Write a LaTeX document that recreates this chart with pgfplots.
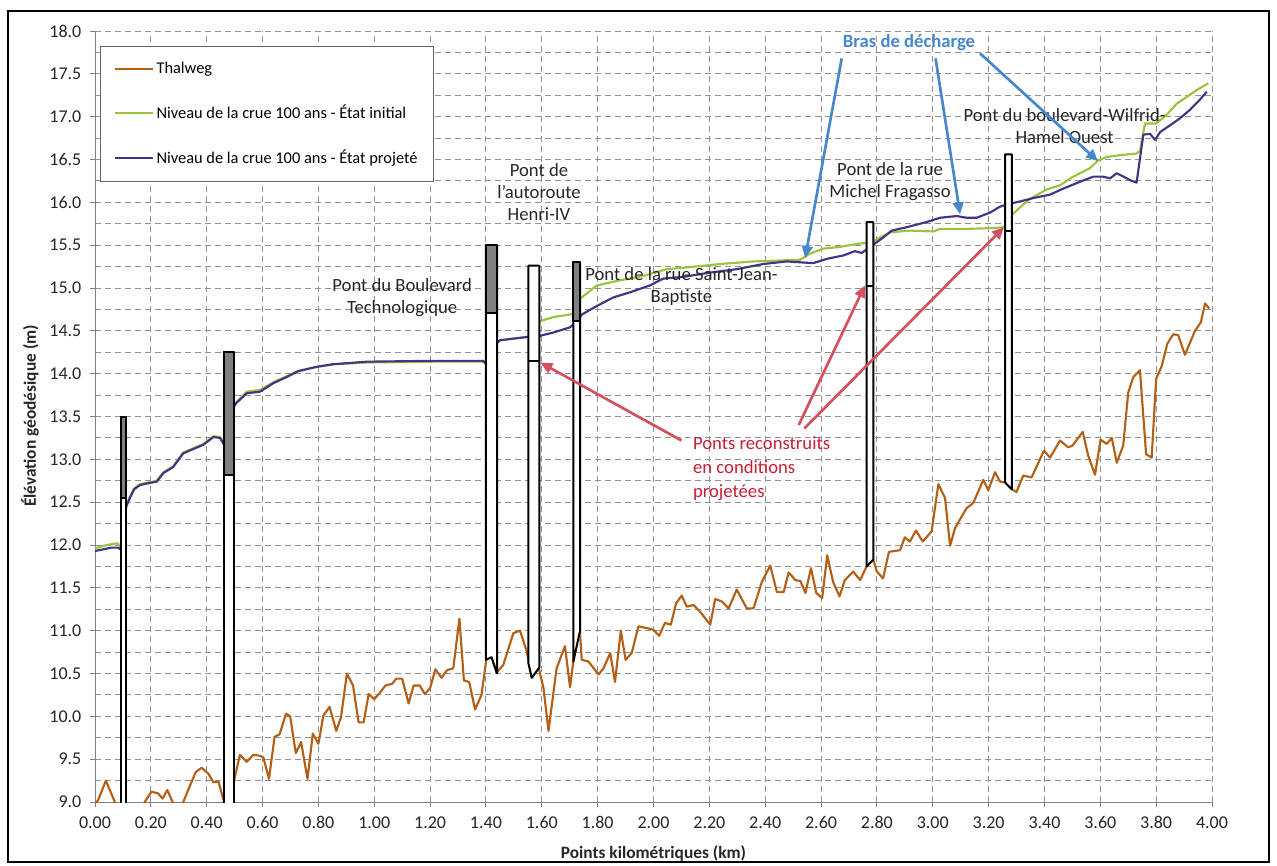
\documentclass[border=0pt]{standalone}
\usepackage{fontspec}
\setmainfont{Carlito}
\usepackage{pgfplots}
\pgfplotsset{compat=1.18}
\usetikzlibrary{arrows.meta}
\definecolor{thal}{RGB}{180,95,22}
\definecolor{ini}{RGB}{155,195,60}
\definecolor{proj}{RGB}{64,52,132}
\definecolor{gridc}{RGB}{145,145,145}
\definecolor{arrred}{RGB}{212,80,92}
\definecolor{txtred}{RGB}{200,30,50}
\definecolor{arrblue}{RGB}{70,135,205}
\definecolor{deck}{RGB}{128,128,128}
\begin{document}
\begin{tikzpicture}
\begin{scope}[x=0.75pt,y=-0.75pt]
\path[use as bounding box] (0,0) rectangle (1277,865);
\end{scope}
\begin{axis}[
  at={(71.25pt,-601.5pt)}, anchor=south west,
  scale only axis, width=837.75pt, height=578.25pt,
  xmin=0, xmax=4, ymin=9, ymax=18,
  xtick distance=0.2, ytick distance=0.5, minor y tick num=1,
  grid=both,
  major grid style={gridc, line width=0.75pt, dash pattern=on 4.5pt off 3pt},
  minor grid style={gridc, line width=0.75pt, dash pattern=on 4.5pt off 3pt},
  axis x line*=bottom, axis y line*=left,
  axis line style={black!50, line width=0.75pt, -},
  tick align=outside, major tick length=3.75pt, minor tick length=0pt,
  tick style={black!50, line width=0.75pt},
  /pgf/number format/assume math mode=true,
  tick label style={font=\fontsize{13.5}{15}\selectfont, text=black!85},
  x tick label style={yshift=-3.5pt,/pgf/number format/fixed,/pgf/number format/fixed zerofill,/pgf/number format/precision=2},
  y tick label style={xshift=-3pt,/pgf/number format/fixed,/pgf/number format/fixed zerofill,/pgf/number format/precision=1},
  clip mode=individual,
  legend style={at={(0.0045,0.9805)}, anchor=north west, draw=black!60, line width=0.75pt, fill=white,
    font=\fontsize{12.3}{14}\selectfont, inner xsep=10pt, inner ysep=10pt, row sep=18pt, cells={anchor=west}},
  legend image code/.code={\draw[#1,line width=1.5pt] (0pt,0pt) -- (28.5pt,0pt);},
  every axis plot/.append style={line join=round, mark=none},
]
% Thalweg
\addplot[thal, line width=1.6pt] coordinates {
(0.000,8.98)(0.011,9.02)(0.039,9.25)(0.071,9.0)(0.09,8.7)(0.13,8.6)(0.165,8.85)(0.178,9.0)
(0.202,9.12)(0.226,9.10)(0.242,9.04)(0.259,9.14)(0.278,9.0)(0.295,8.85)(0.316,9.0)(0.34,9.19)
(0.361,9.35)(0.382,9.40)(0.406,9.33)(0.424,9.23)(0.442,9.24)(0.462,9.0)(0.47,8.9)(0.485,9.0)
(0.498,9.25)(0.519,9.55)(0.543,9.47)(0.567,9.55)(0.591,9.54)(0.603,9.52)(0.623,9.27)(0.643,9.76)
(0.661,9.79)(0.684,10.03)(0.699,10.0)(0.719,9.57)(0.738,9.70)(0.761,9.27)(0.780,9.80)(0.80,9.68)
(0.818,10.01)(0.84,10.11)(0.864,9.83)(0.881,9.99)(0.902,10.50)(0.924,10.36)(0.944,9.93)(0.962,9.93)
(0.98,10.26)(1.0,10.20)(1.019,10.27)(1.04,10.36)(1.064,10.38)(1.079,10.44)(1.10,10.44)(1.123,10.15)
(1.141,10.36)(1.163,10.36)(1.181,10.26)(1.20,10.33)(1.219,10.55)(1.241,10.45)(1.261,10.54)(1.283,10.56)
(1.305,11.14)(1.321,10.42)(1.340,10.40)(1.361,10.08)(1.384,10.25)(1.402,10.68)(1.42,10.69)(1.438,10.51)
(1.462,10.60)(1.498,10.97)(1.522,11.0)(1.546,10.76)(1.564,10.45)(1.588,10.58)(1.606,10.33)(1.624,9.83)
(1.653,10.56)(1.683,10.82)(1.701,10.34)(1.713,10.64)(1.735,11.07)(1.743,10.66)(1.767,10.64)(1.803,10.49)
(1.821,10.56)(1.845,10.74)(1.862,10.40)(1.883,11.0)(1.90,10.66)(1.922,10.74)(1.946,11.05)(1.976,11.03)
(2.0,11.01)(2.02,10.94)(2.041,11.09)(2.062,11.07)(2.081,11.32)(2.101,11.41)(2.119,11.28)(2.143,11.30)
(2.167,11.22)(2.203,11.07)(2.221,11.37)(2.245,11.34)(2.269,11.26)(2.298,11.48)(2.334,11.26)(2.358,11.26)
(2.388,11.57)(2.418,11.76)(2.442,11.45)(2.466,11.45)(2.484,11.68)(2.508,11.59)(2.526,11.58)(2.544,11.44)
(2.564,11.73)(2.583,11.44)(2.604,11.38)(2.622,11.88)(2.643,11.57)(2.666,11.40)(2.685,11.59)(2.715,11.69)
(2.74,11.59)(2.763,11.75)(2.787,11.83)(2.80,11.69)(2.822,11.61)(2.843,11.92)(2.883,11.94)(2.90,12.09)
(2.918,12.04)(2.94,12.17)(2.964,12.04)(2.996,12.16)(3.02,12.71)(3.044,12.55)(3.062,11.99)(3.08,12.2)
(3.121,12.43)(3.145,12.49)(3.181,12.76)(3.199,12.64)(3.223,12.85)(3.241,12.74)(3.262,12.73)(3.283,12.65)
(3.30,12.62)(3.324,12.81)(3.354,12.79)(3.398,13.10)(3.42,13.02)(3.456,13.22)(3.485,13.14)(3.50,13.16)
(3.537,13.32)(3.557,13.04)(3.581,12.82)(3.601,13.23)(3.623,13.18)(3.641,13.25)(3.659,12.96)(3.682,13.16)
(3.70,13.78)(3.718,13.96)(3.742,14.04)(3.764,13.06)(3.784,13.02)(3.80,13.94)(3.82,14.09)(3.84,14.35)
(3.861,14.46)(3.879,14.45)(3.903,14.22)(3.939,14.50)(3.96,14.60)(3.975,14.82)(3.99,14.76)
};
\addlegendentry{Thalweg}
% Etat initial
\addplot[ini, line width=1.6pt] coordinates {
(0,11.96)(0.03,11.99)(0.06,12.01)(0.08,12.02)(0.092,11.98)(0.112,12.46)(0.125,12.56)(0.14,12.66)
(0.161,12.71)(0.19,12.73)(0.221,12.75)(0.245,12.85)(0.28,12.92)(0.30,13.01)(0.316,13.08)(0.352,13.13)
(0.388,13.18)(0.424,13.27)(0.448,13.26)(0.462,13.18)(0.498,13.63)(0.507,13.67)(0.543,13.79)(0.591,13.81)
(0.639,13.90)(0.686,13.97)(0.728,14.03)(0.794,14.08)(0.853,14.11)(0.973,14.13)(1.21,14.14)(1.39,14.14)
(1.40,14.11)(1.44,14.36)(1.45,14.39)(1.50,14.41)(1.552,14.43)(1.591,14.61)(1.641,14.66)(1.70,14.69)
(1.711,14.70)(1.737,14.87)(1.743,14.89)(1.797,15.03)(1.88,15.09)(1.963,15.14)(2.047,15.22)(2.119,15.24)
(2.238,15.28)(2.357,15.31)(2.525,15.33)(2.56,15.40)(2.608,15.46)(2.668,15.48)(2.74,15.52)(2.781,15.53)
(2.811,15.59)(2.847,15.65)(2.918,15.67)(3.002,15.66)(3.026,15.69)(3.121,15.69)(3.217,15.70)(3.255,15.71)
(3.282,15.85)(3.312,15.94)(3.348,16.04)(3.408,16.15)(3.456,16.20)(3.503,16.30)(3.563,16.40)(3.593,16.49)
(3.623,16.53)(3.67,16.55)(3.73,16.57)(3.742,16.60)(3.76,16.92)(3.80,16.92)(3.837,17.02)(3.873,17.15)
(3.909,17.23)(3.945,17.31)(3.987,17.39)
};
\addlegendentry{Niveau de la crue 100 ans - État initial}
% Etat projete
\addplot[proj, line width=1.6pt] coordinates {
(0,11.93)(0.03,11.95)(0.06,11.97)(0.08,11.97)(0.092,11.95)(0.112,12.45)(0.125,12.55)(0.14,12.65)
(0.161,12.70)(0.19,12.72)(0.221,12.74)(0.245,12.84)(0.28,12.91)(0.30,13.0)(0.316,13.07)(0.352,13.12)
(0.388,13.17)(0.424,13.26)(0.448,13.25)(0.462,13.17)(0.498,13.62)(0.507,13.66)(0.543,13.77)(0.591,13.79)
(0.639,13.89)(0.686,13.96)(0.728,14.03)(0.794,14.08)(0.853,14.11)(0.973,14.14)(1.21,14.15)(1.39,14.15)
(1.40,14.12)(1.44,14.36)(1.45,14.39)(1.50,14.41)(1.552,14.43)(1.591,14.44)(1.641,14.48)(1.70,14.54)
(1.711,14.57)(1.737,14.66)(1.743,14.69)(1.797,14.79)(1.856,14.89)(1.916,14.95)(1.987,15.03)(2.035,15.11)
(2.107,15.13)(2.202,15.18)(2.298,15.22)(2.393,15.28)(2.477,15.31)(2.525,15.30)(2.572,15.29)(2.62,15.34)
(2.68,15.38)(2.721,15.43)(2.745,15.41)(2.769,15.46)(2.793,15.52)(2.823,15.59)(2.853,15.67)(2.907,15.71)
(2.978,15.77)(3.026,15.82)(3.086,15.84)(3.121,15.82)(3.157,15.82)(3.205,15.88)(3.241,15.95)(3.271,15.98)
(3.312,16.01)(3.36,16.05)(3.42,16.09)(3.467,16.16)(3.527,16.24)(3.575,16.30)(3.61,16.30)(3.635,16.28)
(3.659,16.34)(3.683,16.30)(3.706,16.26)(3.73,16.23)(3.754,16.79)(3.778,16.80)(3.796,16.73)(3.814,16.82)
(3.85,16.90)(3.885,16.98)(3.921,17.08)(3.957,17.20)(3.981,17.29)
};
\addlegendentry{Niveau de la crue 100 ans - État projeté}
% Bridges
\addplot[draw=black, line width=1.5pt, fill=white, forget plot] coordinates {(0.092,8.5)(0.092,13.5)(0.112,13.5)(0.112,8.5)} -- cycle;
\addplot[draw=black, line width=1.5pt, fill=deck, forget plot] coordinates {(0.092,12.55)(0.092,13.5)(0.112,13.5)(0.112,12.55)} -- cycle;
\addplot[draw=black, line width=1.5pt, fill=white, forget plot] coordinates {(0.462,8.5)(0.462,14.25)(0.498,14.25)(0.498,8.5)} -- cycle;
\addplot[draw=black, line width=1.5pt, fill=deck, forget plot] coordinates {(0.462,12.82)(0.462,14.25)(0.498,14.25)(0.498,12.82)} -- cycle;
\addplot[draw=black, line width=1.5pt, fill=white, forget plot] coordinates {(1.40,10.66)(1.40,15.5)(1.44,15.5)(1.44,10.50)(1.42,10.69)} -- cycle;
\addplot[draw=black, line width=1.5pt, fill=deck, forget plot] coordinates {(1.40,14.71)(1.40,15.5)(1.44,15.5)(1.44,14.71)} -- cycle;
\addplot[draw=black, line width=1.5pt, fill=white, forget plot] coordinates {(1.552,10.62)(1.552,15.26)(1.591,15.26)(1.591,10.57)(1.564,10.45)} -- cycle;
\addplot[draw=black, line width=1.5pt, forget plot] coordinates {(1.552,14.15)(1.591,14.15)};
\addplot[draw=black, line width=1.5pt, fill=white, forget plot] coordinates {(1.713,10.64)(1.713,15.30)(1.737,15.30)(1.737,11.0)} -- cycle;
\addplot[draw=black, line width=1.5pt, fill=deck, forget plot] coordinates {(1.713,14.61)(1.713,15.30)(1.737,15.30)(1.737,14.61)} -- cycle;
\addplot[draw=black, line width=1.5pt, fill=white, forget plot] coordinates {(2.763,11.75)(2.763,15.77)(2.787,15.77)(2.787,11.83)} -- cycle;
\addplot[draw=black, line width=1.5pt, forget plot] coordinates {(2.763,15.02)(2.787,15.02)};
\addplot[draw=black, line width=1.5pt, fill=white, forget plot] coordinates {(3.259,12.73)(3.259,16.56)(3.283,16.56)(3.283,12.65)} -- cycle;
\addplot[draw=black, line width=1.5pt, forget plot] coordinates {(3.259,15.67)(3.283,15.67)};
% Annotations
\node[font=\fontsize{14}{16.7}\selectfont, align=center, text=black!85] at (axis cs:1.10,14.89) {Pont du Boulevard\\Technologique};
\node[font=\fontsize{14}{16.7}\selectfont, align=center, text=black!85] at (axis cs:1.59,16.12) {Pont de\\l'autoroute\\Henri-IV};
\node[font=\fontsize{14}{16.7}\selectfont, align=center, text=black!85] at (axis cs:2.10,15.02) {Pont de la rue Saint-Jean-\\Baptiste};
\node[font=\fontsize{14}{16.7}\selectfont, align=center, text=black!85] at (axis cs:2.847,16.24) {Pont de la rue\\Michel Fragasso};
\node[font=\fontsize{14}{16.7}\selectfont, align=center, text=black!85] at (axis cs:3.472,16.89) {Pont du boulevard-Wilfrid-\\Hamel Ouest};
\node[font=\bfseries\fontsize{14}{16.7}\selectfont, text=arrblue] at (axis cs:2.915,17.87) {Bras de décharge};
\node[font=\fontsize{14}{18}\selectfont, align=left, text=txtred, anchor=west] at (axis cs:2.125,12.89) {Ponts reconstruits\\en conditions\\projetées};
% Arrows
\draw[arrblue, line width=2pt, -{Triangle[length=9pt,width=8pt]}] (axis cs:2.674,17.68) -- (axis cs:2.543,15.35);
\draw[arrblue, line width=2pt, -{Triangle[length=9pt,width=8pt]}] (axis cs:3.01,17.68) -- (axis cs:3.098,15.86);
\draw[arrblue, line width=2pt, -{Triangle[length=9pt,width=8pt]}] (axis cs:3.169,17.74) -- (axis cs:3.592,16.48);
\draw[arrred, line width=2pt, -{Triangle[length=9pt,width=8pt]}] (axis cs:2.10,13.22) -- (axis cs:1.595,14.13);
\draw[arrred, line width=2pt, -{Triangle[length=9pt,width=8pt]}] (axis cs:2.52,13.40) -- (axis cs:2.757,15.03);
\draw[arrred, line width=2pt, -{Triangle[length=9pt,width=8pt]}] (axis cs:2.54,13.36) -- (axis cs:3.255,15.71);
\end{axis}
\begin{scope}[x=0.75pt,y=-0.75pt]
\draw[line width=1.5pt] (8,11) rectangle (1269,862);
\node[font=\bfseries\fontsize{13}{15}\selectfont, text=black!85] at (653.5,853) {Points kilométriques (km)};
\node[rotate=90, font=\bfseries\fontsize{13}{15}\selectfont, text=black!85] at (30,416) {Élévation géodésique (m)};
\end{scope}
\end{tikzpicture}
\end{document}
